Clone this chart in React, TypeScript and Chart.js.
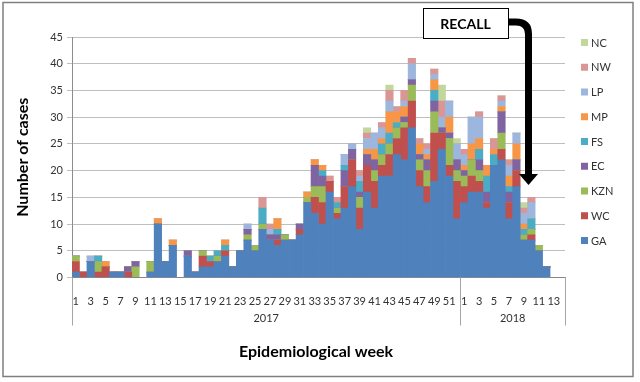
import React, { useEffect, useRef } from "react";
import { Chart, registerables } from "chart.js";

Chart.register(...registerables);

const FONT = "Lato, 'Open Sans', 'DejaVu Sans', sans-serif";

const weekLabels = [
  "1","2","3","4","5","6","7","8","9","10","11","12","13","14","15","16","17","18","19","20",
  "21","22","23","24","25","26","27","28","29","30","31","32","33","34","35","36","37","38","39","40",
  "41","42","43","44","45","46","47","48","49","50","51","52",
  "1","2","3","4","5","6","7","8","9","10","11","12","13","14",
];
const yearLabels = ["2017", "2018"];
const yearWeekCounts = [52, 14];

const seriesNames = ["GA", "WC", "KZN", "EC", "FS", "MP", "LP", "NW", "NC"];
const seriesColors = ["#4F81BD", "#C0504D", "#9BBB59", "#8064A2", "#4BACC6", "#F79646", "#9DB6DD", "#DA9694", "#C3D69B"];

const GA = [1,0,3,0,0, 1,1,0,0,0, 1,10,3,6,0, 4,1,2,2,3, 4,2,5,7,5, 9,7,6,7,7, 8,14,12,10,16, 11,13,17,9,16, 13,19,19,23,22, 28,17,14,18,24, 19,11,
  14,16,16,13,21,22,11,17,7,7,5,2,0,0];
const WC = [2,1,0,1,2, 0,0,1,0,0, 0,0,0,0,0, 0,0,2,1,0, 1,0,0,0,0, 0,0,1,0,0, 1,0,3,4,2, 1,4,5,4,5, 5,2,4,3,6, 5,3,3,9,3, 2,7,
  3,3,2,1,0,2,3,3,0,1,0,0,0,0];
const KZN = [1,0,0,2,0, 0,0,0,2,0, 2,0,0,0,0, 0,0,1,0,1, 0,0,0,1,1, 1,0,0,1,0, 0,1,2,3,0, 1,0,0,2,0, 2,2,2,2,1, 3,2,3,4,0, 5,2,
  2,3,2,0,0,3,0,0,1,1,1,0,0,0];
const EC = [0,0,0,0,0, 0,0,1,1,0, 0,0,0,0,0, 1,0,0,0,0, 0,0,0,1,0, 0,1,1,0,0, 1,0,4,2,0, 0,3,2,1,2, 2,0,0,0,1, 1,1,2,2,1, 1,2,
  1,0,2,2,0,4,2,2,0,0,0,0,0,0];
const FS = [0,0,0,1,0, 0,0,0,0,0, 0,0,0,0,0, 0,0,0,1,1, 1,0,0,0,0, 3,0,1,0,0, 0,0,0,1,0, 1,1,0,2,0, 0,2,2,1,0, 0,0,0,2,0, 0,0,
  0,0,2,3,2,0,1,0,1,2,0,0,0,0];
const MP = [0,0,0,0,1, 0,0,0,0,0, 0,1,0,1,0, 0,0,0,0,0, 1,0,0,0,0, 0,0,2,0,0, 0,1,1,1,0, 0,0,0,0,1, 2,1,4,2,2, 0,2,1,2,0, 3,0,
  1,3,2,2,1,1,2,3,1,0,0,0,0,0];
const LP = [0,0,1,0,0, 0,0,0,0,0, 0,0,0,0,0, 0,0,0,0,0, 0,0,0,1,0, 0,1,0,0,0, 0,0,0,0,0, 0,2,1,1,2, 3,2,2,0,1, 3,0,1,1,2, 3,3,
  2,5,4,0,0,1,2,2,2,3,0,0,0,0];
const NW = [0,0,0,0,0, 0,0,0,0,0, 0,0,0,0,0, 0,0,0,0,0, 0,0,0,0,0, 2,1,0,0,0, 0,0,0,0,1, 1,0,0,1,1, 0,1,2,1,2, 1,1,1,1,3, 0,0,
  1,0,1,0,2,1,1,0,1,1,0,0,0,0];
const NC = [0,0,0,0,0, 0,0,0,0,0, 0,0,0,0,0, 0,0,0,0,0, 0,0,0,0,0, 0,0,0,0,0, 0,0,0,0,0, 0,0,0,0,1, 0,0,1,0,0, 0,0,0,0,3, 0,1,
  0,0,0,0,0,0,0,0,1,0,0,0,0,0];

const seriesValues = [GA, WC, KZN, EC, FS, MP, LP, NW, NC];

const yMin = 0;
const yMax = 45;
const yStep = 5;

const yTitle = "Number of cases";
const xTitle = "Epidemiological week";
const recallText = "RECALL";

const overlay = {
  id: "overlay",
  afterDraw(chart: any) {
    const { ctx, chartArea, scales } = chart;
    const xs = scales.x;
    ctx.save();

    // outer frame
    ctx.strokeStyle = "#7F7F7F";
    ctx.lineWidth = 1.5;
    ctx.strokeRect(3, 2.5, 630, 374);

    // year group separators and labels
    ctx.strokeStyle = "#A6A6A6";
    ctx.lineWidth = 1;
    const sepBottom = chartArea.bottom + 48;
    let start = 0;
    const bounds: number[] = [chartArea.left];
    yearWeekCounts.forEach((n) => {
      const end = start + n;
      const px = end >= weekLabels.length
        ? chartArea.right
        : (xs.getPixelForValue(end - 1) + xs.getPixelForValue(end)) / 2;
      bounds.push(px);
      start = end;
    });
    bounds.forEach((b) => {
      ctx.beginPath();
      ctx.moveTo(Math.round(b) + 0.5, chartArea.bottom);
      ctx.lineTo(Math.round(b) + 0.5, sepBottom);
      ctx.stroke();
    });
    ctx.fillStyle = "#333333";
    ctx.font = `11px ${FONT}`;
    ctx.textAlign = "center";
    ctx.textBaseline = "middle";
    yearLabels.forEach((lab, i) => {
      ctx.fillText(lab, (bounds[i] + bounds[i + 1]) / 2, chartArea.bottom + 41);
    });

    // axis titles
    ctx.fillStyle = "#000000";
    ctx.font = `bold 16px ${FONT}`;
    ctx.fillText(xTitle, 316, 352);
    ctx.save();
    ctx.translate(23, (chartArea.top + chartArea.bottom) / 2);
    ctx.rotate(-Math.PI / 2);
    ctx.fillText(yTitle, 0, 0);
    ctx.restore();

    // legend (reverse order)
    ctx.font = `11px ${FONT}`;
    ctx.textAlign = "left";
    const ds = chart.data.datasets;
    for (let k = 0; k < ds.length; k++) {
      const d = ds[ds.length - 1 - k];
      const cy = 42.5 + k * 24.75;
      ctx.fillStyle = d.backgroundColor;
      ctx.fillRect(581, cy - 3.5, 7, 7);
      ctx.fillStyle = "#333333";
      ctx.fillText(d.label, 591, cy + 0.5);
    }

    // RECALL annotation
    ctx.fillStyle = "#FFFFFF";
    ctx.fillRect(423, 8, 85, 30);
    ctx.strokeStyle = "#000000";
    ctx.lineWidth = 1;
    ctx.strokeRect(423.5, 8.5, 85, 30);
    ctx.fillStyle = "#000000";
    ctx.font = `bold 14px ${FONT}`;
    ctx.textAlign = "center";
    ctx.fillText(recallText, 465.5, 24);

    const ax = 528.5;
    ctx.lineWidth = 7;
    ctx.lineCap = "butt";
    ctx.lineJoin = "round";
    ctx.beginPath();
    ctx.moveTo(508.5, 22);
    ctx.lineTo(516, 22);
    ctx.quadraticCurveTo(ax, 22, ax, 34);
    ctx.lineTo(ax, 176);
    ctx.stroke();
    ctx.beginPath();
    ctx.moveTo(ax - 9.5, 174);
    ctx.lineTo(ax + 9.5, 174);
    ctx.lineTo(ax, 185);
    ctx.closePath();
    ctx.fill();

    ctx.restore();
  },
};

export default function App() {
  const ref = useRef<HTMLCanvasElement | null>(null);

  useEffect(() => {
    if (!ref.current) return;
    const chart = new Chart(ref.current, {
      type: "bar",
      data: {
        labels: weekLabels,
        datasets: seriesNames.map((name, i) => ({
          label: name,
          data: seriesValues[i],
          backgroundColor: seriesColors[i],
          borderWidth: 0,
          barPercentage: 1,
          categoryPercentage: 1,
        })),
      },
      options: {
        responsive: false,
        animation: false,
        devicePixelRatio: 1,
        layout: { padding: { top: 37, right: 75, left: 0, bottom: 0 } },
        plugins: {
          legend: { display: false },
          tooltip: { enabled: false },
          title: { display: false },
        },
        scales: {
          x: {
            stacked: true,
            grid: { display: false },
            border: { display: true, color: "#8C8C8C", width: 1 },
            ticks: {
              autoSkip: false,
              maxRotation: 0,
              minRotation: 0,
              padding: 9,
              color: "#333333",
              font: { family: FONT, size: 11 },
              callback: function (this: any, val: any, index: number) {
                return index % 2 === 0 ? this.getLabelForValue(val) : "";
              },
            },
            afterFit: (s: any) => {
              s.height = 104.5;
            },
          },
          y: {
            stacked: true,
            min: yMin,
            max: yMax,
            grid: { color: "#BFBFBF", lineWidth: 1, drawTicks: true, tickLength: 5 },
            border: { display: true, color: "#8C8C8C", width: 1 },
            ticks: {
              stepSize: yStep,
              padding: 4,
              color: "#333333",
              font: { family: FONT, size: 11 },
            },
            afterFit: (s: any) => {
              s.width = 72;
            },
          },
        },
      },
      plugins: [overlay],
    });
    return () => chart.destroy();
  }, []);

  return (
    <div style={{ position: "absolute", left: 0, top: 0, width: 640, height: 382, background: "#fff" }}>
      <canvas ref={ref} width={640} height={382} />
    </div>
  );
}
